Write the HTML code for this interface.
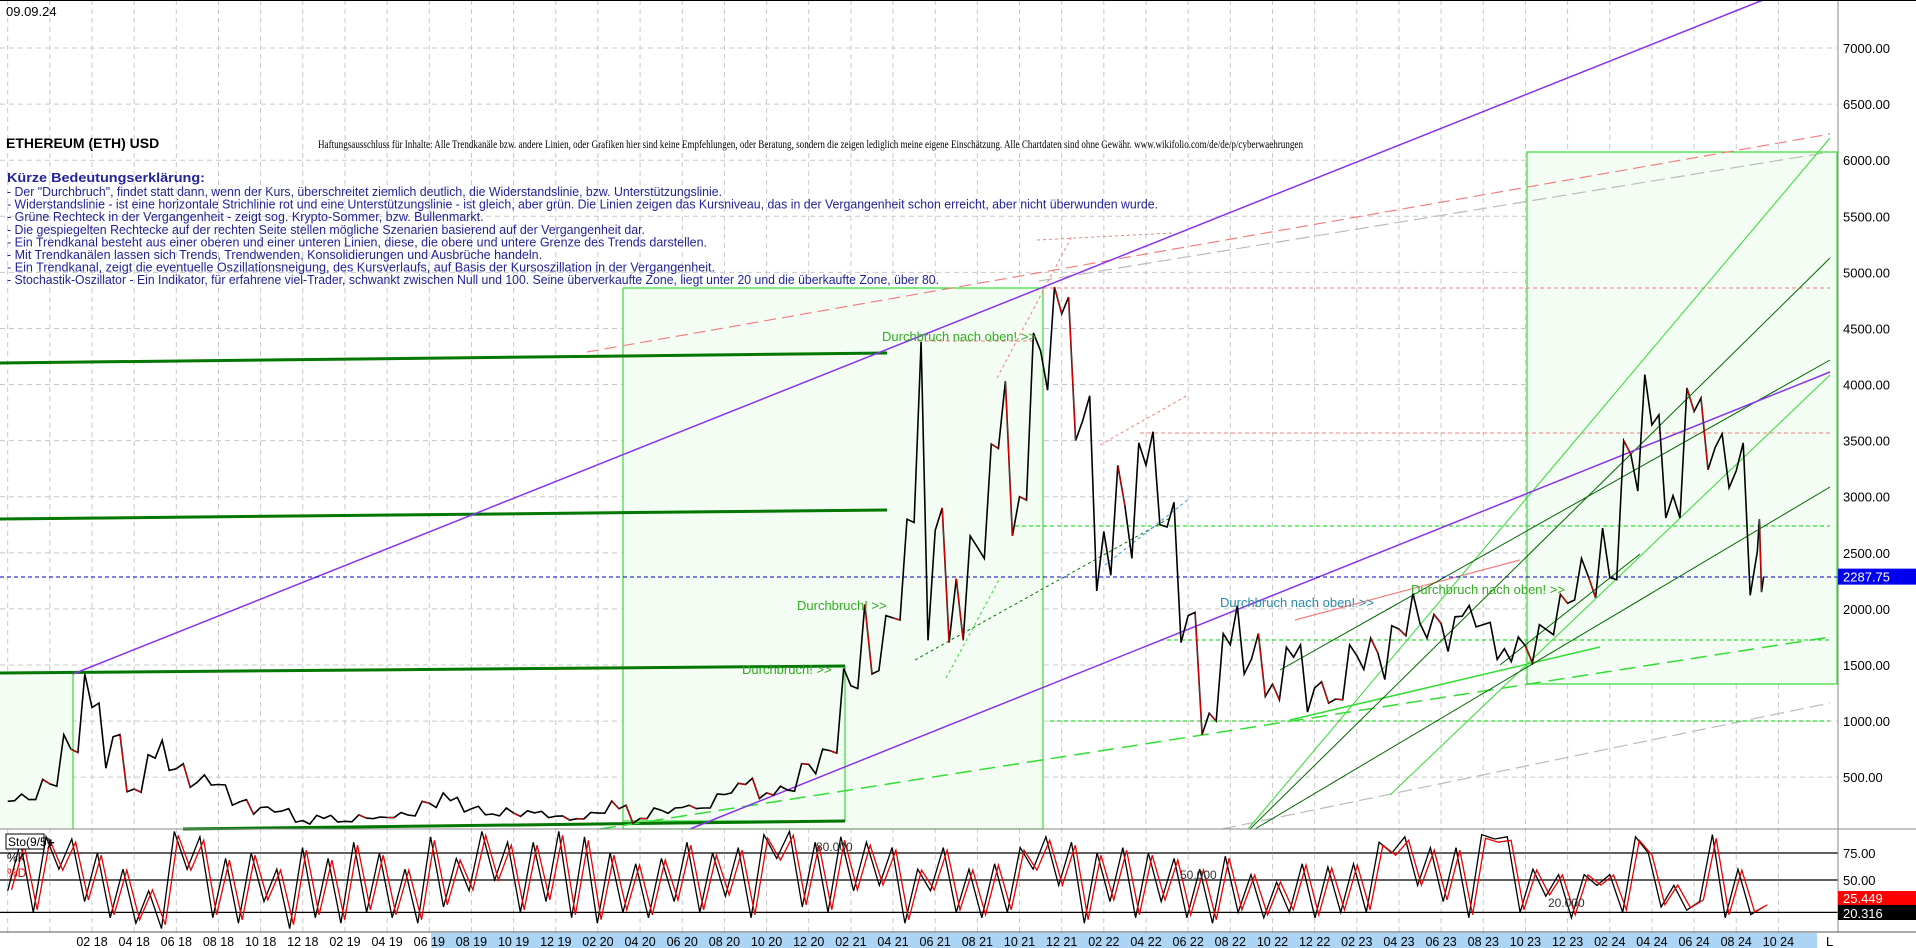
<!DOCTYPE html>
<html><head><meta charset="utf-8"><title>ETH USD</title>
<style>
html,body{margin:0;padding:0;background:#fff;}
svg{display:block;font-family:"Liberation Sans",sans-serif;}
</style></head>
<body>
<svg id="chart" width="1916" height="948" viewBox="0 0 1916 948" xmlns="http://www.w3.org/2000/svg">
<rect x="0" y="0" width="1916" height="948" fill="#fff"/>
<g id="grid"></g>
<g id="shapes">
  <rect x="0" y="674" width="73" height="155" fill="#f4fdf4" stroke="none"/>
  <line x1="73" y1="674" x2="73" y2="829" stroke="#33dd33" stroke-width="1.2"/>
  <rect x="623" y="288" width="420" height="541" fill="#f4fdf4" stroke="#33dd33" stroke-width="1.2"/>
  <line x1="845" y1="666" x2="845" y2="821" stroke="#33dd33" stroke-width="1.2"/>
  <line x1="623" y1="821" x2="845" y2="821" stroke="#33dd33" stroke-width="1.2"/>
  <rect x="1527" y="152" width="310" height="532" fill="#f4fdf4" stroke="#33dd33" stroke-width="1.2"/>
</g>
<g id="lines">
  <line x1="0" y1="363" x2="887" y2="353" stroke="#007700" stroke-width="3"/>
  <line x1="0" y1="519" x2="887" y2="510" stroke="#007700" stroke-width="3"/>
  <line x1="0" y1="673" x2="845" y2="666" stroke="#007700" stroke-width="3"/>
  <line x1="183" y1="829" x2="845" y2="821" stroke="#007700" stroke-width="3"/>
  <line x1="1039" y1="281" x2="1830" y2="152" stroke="#bbb" stroke-width="1.2" stroke-dasharray="14 6"/>
  <line x1="1222" y1="829" x2="1830" y2="703" stroke="#bbb" stroke-width="1.2" stroke-dasharray="14 6"/>
  <line x1="587" y1="352" x2="1830" y2="134" stroke="#f08080" stroke-width="1.2" stroke-dasharray="12 6"/>
  <line x1="1043" y1="288" x2="1830" y2="288" stroke="#f08080" stroke-width="1" stroke-dasharray="4 3"/>
  <line x1="1140" y1="433" x2="1830" y2="433" stroke="#f08080" stroke-width="1" stroke-dasharray="4 3"/>
  <line x1="918" y1="341" x2="1035" y2="341" stroke="#f08080" stroke-width="1" stroke-dasharray="4 3"/>
  <line x1="1037" y1="240" x2="1172" y2="233" stroke="#f08080" stroke-width="1" stroke-dasharray="3 3"/>
  <line x1="997" y1="378" x2="1072" y2="236" stroke="#f08080" stroke-width="1" stroke-dasharray="3 3"/>
  <line x1="1100" y1="445" x2="1188" y2="395" stroke="#f08080" stroke-width="1" stroke-dasharray="3 3"/>
  <line x1="1295" y1="620" x2="1520" y2="560" stroke="#f08080" stroke-width="1.2"/>
  <line x1="1050" y1="721" x2="1830" y2="721" stroke="#33dd33" stroke-width="1.2" stroke-dasharray="4 3"/>
  <line x1="1015" y1="526" x2="1830" y2="526" stroke="#33dd33" stroke-width="1.2" stroke-dasharray="4 3"/>
  <line x1="1160" y1="640" x2="1830" y2="640" stroke="#33dd33" stroke-width="1.2" stroke-dasharray="4 3"/>
  <line x1="946" y1="678" x2="1000" y2="578" stroke="#33dd33" stroke-width="1" stroke-dasharray="3 3"/>
  <line x1="915" y1="660" x2="1170" y2="518" stroke="#007700" stroke-width="1" stroke-dasharray="3 3"/>
  <line x1="1105" y1="565" x2="1190" y2="498" stroke="#3399ee" stroke-width="1" stroke-dasharray="3 3"/>
  <line x1="600" y1="829" x2="1830" y2="637" stroke="#33dd33" stroke-width="1.5" stroke-dasharray="16 8"/>
  <line x1="1290" y1="720" x2="1600" y2="647" stroke="#33dd33" stroke-width="1.5"/>
  <line x1="1248" y1="829" x2="1830" y2="138" stroke="#33dd33" stroke-width="1"/>
  <line x1="1390" y1="795" x2="1830" y2="375" stroke="#33dd33" stroke-width="1"/>
  <line x1="1250" y1="829" x2="1830" y2="258" stroke="#006600" stroke-width="1"/>
  <line x1="1255" y1="829" x2="1830" y2="487" stroke="#006600" stroke-width="1"/>
  <line x1="1500" y1="665" x2="1640" y2="554" stroke="#006600" stroke-width="1"/>
  <line x1="1280" y1="670" x2="1830" y2="360" stroke="#006600" stroke-width="1"/>
  <line x1="73" y1="674" x2="1763" y2="0" stroke="#8833ee" stroke-width="1.5"/>
  <line x1="690" y1="829" x2="1830" y2="372" stroke="#8833ee" stroke-width="1.5"/>
  <line x1="0" y1="577" x2="1838" y2="577" stroke="#0000cc" stroke-width="1" stroke-dasharray="4 3"/>
</g>
<g id="price"></g>
<g id="stoch"></g>
<g id="texts">
  <text x="6" y="16" font-size="13" fill="#000">09.09.24</text>
  <text x="6" y="148" font-size="14" font-weight="bold" fill="#000">ETHEREUM (ETH) USD</text>
  <text x="318" y="148" font-size="11.5" fill="#000" font-family="Liberation Serif, serif" textLength="985" lengthAdjust="spacingAndGlyphs">Haftungsausschluss für Inhalte: Alle Trendkanäle bzw. andere Linien, oder Grafiken hier sind keine Empfehlungen, oder Beratung, sondern die zeigen lediglich meine eigene Einschätzung. Alle Chartdaten sind ohne Gewähr.  www.wikifolio.com/de/de/p/cyberwaehrungen</text>
  <g fill="#22229a" font-size="12.5">
    <text x="7" y="182" font-weight="bold" textLength="198" lengthAdjust="spacingAndGlyphs">Kürze Bedeutungserklärung:</text>
    <text x="7" y="196" textLength="715" lengthAdjust="spacingAndGlyphs"> - Der "Durchbruch", findet statt dann, wenn der Kurs, überschreitet ziemlich deutlich, die Widerstandslinie, bzw. Unterstützungslinie.</text>
    <text x="7" y="208.5" textLength="1151" lengthAdjust="spacingAndGlyphs"> - Widerstandslinie - ist eine horizontale Strichlinie rot und eine Unterstützungslinie - ist gleich, aber grün. Die Linien zeigen das Kursniveau, das in der Vergangenheit schon erreicht, aber nicht überwunden wurde.</text>
    <text x="7" y="221"> - Grüne Rechteck in der Vergangenheit - zeigt sog. Krypto-Sommer, bzw. Bullenmarkt.</text>
    <text x="7" y="234" textLength="638" lengthAdjust="spacingAndGlyphs"> - Die gespiegelten Rechtecke auf der rechten Seite stellen mögliche Szenarien basierend auf der Vergangenheit dar.</text>
    <text x="7" y="246.5" textLength="700" lengthAdjust="spacingAndGlyphs"> - Ein Trendkanal besteht aus einer oberen und einer unteren Linien, diese, die obere und untere Grenze des Trends darstellen.</text>
    <text x="7" y="259"> - Mit Trendkanälen lassen sich Trends, Trendwenden, Konsolidierungen und Ausbrüche handeln.</text>
    <text x="7" y="271.5" textLength="708" lengthAdjust="spacingAndGlyphs"> - Ein Trendkanal, zeigt die eventuelle Oszillationsneigung, des Kursverlaufs, auf Basis der Kursoszillation in der Vergangenheit.</text>
    <text x="7" y="284" textLength="932" lengthAdjust="spacingAndGlyphs"> - Stochastik-Oszillator - Ein Indikator, für erfahrene viel-Trader, schwankt zwischen Null und 100. Seine überverkaufte Zone, liegt unter 20 und die überkaufte Zone, über 80.</text>
  </g>
  <g font-size="13" fill="#33aa22">
    <text x="882" y="341">Durchbruch nach oben! &gt;&gt;</text>
    <text x="797" y="610">Durchbruch! &gt;&gt;</text>
    <text x="742" y="674">Durchbruch! &gt;&gt;</text>
    <text x="1220" y="607" fill="#2a8aaa">Durchbruch nach oben! &gt;&gt;</text>
    <text x="1411" y="594">Durchbruch nach oben! &gt;&gt;</text>
  </g>
</g>
<g id="axes"></g>
</svg>
<script>
// ---- data ----
var months = ["10 17","11 17","12 17","01 18","02 18","03 18","04 18","05 18","06 18","07 18","08 18","09 18","10 18","11 18","12 18","01 19","02 19","03 19","04 19","05 19","06 19","07 19","08 19","09 19","10 19","11 19","12 19","01 20","02 20","03 20","04 20","05 20","06 20","07 20","08 20","09 20","10 20","11 20","12 20","01 21","02 21","03 21","04 21","05 21","06 21","07 21","08 21","09 21","10 21","11 21","12 21","01 22","02 22","03 22","04 22","05 22","06 22","07 22","08 22","09 22","10 22","11 22","12 22","01 23","02 23","03 23","04 23","05 23","06 23","07 23","08 23","09 23","10 23","11 23","12 23","01 24","02 24","03 24","04 24","05 24","06 24","07 24","08 24","09 24"];
var highs = [350,480,880,1420,1160,880,700,830,620,520,430,300,235,220,160,160,165,145,185,285,360,320,240,225,200,195,155,185,288,250,225,225,250,350,445,490,420,620,750,1470,2040,1940,2800,4380,2900,2650,3470,4030,4460,4870,4780,3900,3280,3480,3580,2950,1970,1780,2030,1780,1660,1680,1350,1680,1740,1850,2140,1950,1930,2030,1880,1750,1860,2130,2450,2720,3500,4090,3730,3970,3880,3560,3480,2800];
var lows = [290,300,420,720,580,370,365,560,410,430,250,170,190,100,82,100,102,130,140,155,230,190,165,155,150,140,117,127,180,90,130,178,220,225,360,310,340,375,530,715,1290,1450,1900,1720,1700,1720,2450,2650,2970,3950,3500,2160,2300,2450,2750,1700,880,1000,1420,1220,1190,1080,1160,1190,1460,1370,1760,1740,1620,1840,1550,1530,1520,1770,2080,2100,2260,3050,2810,2810,3240,3080,2120,2150];
var closes = [300,440,750,1120,860,395,670,575,455,435,280,230,198,113,133,107,136,141,162,268,290,218,172,180,182,152,130,180,218,133,206,230,225,345,435,360,385,615,737,1315,1420,1920,2770,2700,2270,2550,3430,3000,4300,4630,3680,2690,2920,3280,2730,1940,1070,1680,1550,1330,1570,1295,1196,1585,1605,1820,1870,1870,1935,1860,1645,1670,1815,2050,2280,2280,3380,3640,3010,3760,3440,3230,2510,2288];
var lastPrice = 2287.75;
var priceTicks = [500,1000,1500,2000,2500,3000,3500,4000,4500,5000,5500,6000,6500,7000];
var stochK = [40,85,20,90,60,88,30,75,15,60,10,40,5,95,60,90,15,70,10,75,30,60,5,80,15,70,10,85,20,75,15,60,10,90,25,70,40,95,50,85,20,85,30,95,15,90,10,75,20,65,15,70,30,85,20,75,35,80,15,92,70,95,25,85,20,90,40,85,45,80,10,60,40,80,20,60,15,65,20,80,60,90,45,85,10,75,30,80,15,75,30,70,15,60,10,72,20,55,15,48,20,65,15,62,20,65,20,85,75,90,45,80,30,80,15,92,88,90,20,60,35,55,15,55,45,55,20,90,75,25,45,22,30,92,15,60,18,25];
var stochLevels = [75,50,20];
var stochK_last = 20.316, stochD_last = 25.449;

// ---- scales ----
var NS = "http://www.w3.org/2000/svg";
function X(t){ return 92 + (t-1)*21.08; }
function Y(p){ return 665 - (p-1500)*0.11218; }
function SY(s){ return 880 - (s-50)*1.08; }
function mk(tag, attrs, parent){ var e=document.createElementNS(NS,tag); for(var k in attrs) e.setAttribute(k, attrs[k]); parent.appendChild(e); return e; }

var grid = document.getElementById('grid');
var axes = document.getElementById('axes');
var price = document.getElementById('price');
var stoch = document.getElementById('stoch');

for (var t=-3; t<=82; t++){
  var mo = ((t%12)+12)%12 + 1;
  if (mo%2===0){
    var gl = mk('line',{x1:X(t),x2:X(t),y1:0,y2:932,stroke:'#c8c8c8','stroke-dasharray':'5 4','stroke-width':1},grid);
    
    
  }
}
for (var i=0;i<priceTicks.length;i++){
  var hl = mk('line',{x1:0,x2:1838,y1:Y(priceTicks[i]),y2:Y(priceTicks[i]),stroke:'#c8c8c8','stroke-dasharray':'5 4'},grid);
  
  
}

// ---- price path ----
var pts = [];
var prevC = closes[0]*0.95;
for (var i=0;i<months.length;i++){
  var t0 = i-3, span = (i===months.length-1)?0.3:1;
  var o = prevC, c = closes[i];
  var first = c>=o ? lows[i] : highs[i], second = c>=o ? highs[i] : lows[i];
  pts.push([X(t0),Y(o)],[X(t0+span*0.33),Y(first)],[X(t0+span*0.66),Y(second)],[X(t0+span),Y(c)]);
  prevC = c;
}
var d = 'M'+pts.map(function(p){return p[0].toFixed(1)+' '+p[1].toFixed(1);}).join(' L');
var pp = mk('path',{d:d,fill:'none',stroke:'#000','stroke-width':1.6},price);


for (var j=1;j<pts.length;j++){
  if (pts[j][1] > pts[j-1][1] && j%3===1){
    var rs = mk('line',{x1:pts[j-1][0],y1:pts[j-1][1],x2:pts[j][0],y2:pts[j][1],stroke:'#e00','stroke-width':1},price);
    
    
  }
}

// ---- stochastic ----
var sp = mk('line',{x1:0,x2:1916,y1:829,y2:829,stroke:'#888','stroke-width':1},stoch);


for (var i=0;i<stochLevels.length;i++){
  var ll = mk('line',{x1:0,x2:1838,y1:SY(stochLevels[i]),y2:SY(stochLevels[i]),stroke:'#000','stroke-width':1.2},stoch);
  
  
}
var tStart=-3, tEnd=80.3, step=(tEnd-tStart)/(stochK.length-1);
var kd='', dd='';
for (var i=0;i<stochK.length;i++){
  kd += (i?' L':'M') + X(tStart+i*step).toFixed(1)+' '+SY(stochK[i]).toFixed(1);
  dd += (i?' L':'M') + X(tStart+i*step+0.18).toFixed(1)+' '+SY(stochK[i]*0.92+4).toFixed(1);
}
var kp = mk('path',{d:kd,fill:'none',stroke:'#000','stroke-width':1.3},stoch);


var dp = mk('path',{d:dd,fill:'none',stroke:'#e00','stroke-width':1.3},stoch);



// ---- axes ----
var ax = mk('line',{x1:1838,x2:1838,y1:0,y2:932,stroke:'#888','stroke-width':1},axes);


var tb = mk('line',{x1:0,x2:1916,y1:0.5,y2:0.5,stroke:'#000','stroke-width':1},axes);


for (var i=0;i<priceTicks.length;i++){
  var tx = mk('text',{x:1843,y:Y(priceTicks[i])+5,'font-size':13,fill:'#000'},axes);
  tx.textContent = priceTicks[i].toFixed(2);
  
  
}
var pb = mk('rect',{x:1838,y:Y(lastPrice)-8,width:78,height:16,fill:'#0000ee'},axes);


var pt = mk('text',{x:1843,y:Y(lastPrice)+5,'font-size':13,fill:'#fff'},axes);
pt.textContent = lastPrice.toFixed(2);


var sl = [75,50];
for (var i=0;i<sl.length;i++){
  var st = mk('text',{x:1843,y:SY(sl[i])+5,'font-size':13,fill:'#000'},axes);
  st.textContent = sl[i].toFixed(2);
  
  
}
var rb = mk('rect',{x:1838,y:891,width:78,height:14,fill:'#ff0000'},axes);


var rt = mk('text',{x:1843,y:903,'font-size':13,fill:'#fff'},axes);
rt.textContent = stochD_last.toFixed(3);


var bb = mk('rect',{x:1838,y:905,width:78,height:15,fill:'#000'},axes);


var bt = mk('text',{x:1843,y:918,'font-size':13,fill:'#fff'},axes);
bt.textContent = stochK_last.toFixed(3);


var lb = mk('rect',{x:6,y:834,width:38,height:15,fill:'#fff',stroke:'#000'},axes);


var lt = mk('text',{x:8,y:846,'font-size':12,fill:'#000'},axes);
lt.textContent='Sto(9/5)';


var plus = mk('text',{x:47,y:847,'font-size':13,'font-weight':'bold',fill:'#000'},axes);
plus.textContent='+';


var kl = mk('text',{x:7,y:862,'font-size':12,fill:'#000'},axes); kl.textContent='%K';


var dl = mk('text',{x:7,y:877,'font-size':12,fill:'#e00'},axes); dl.textContent='%D';


var lvls=[['80.000',816,851],['50.000',1180,879],['20.000',1548,907]];
for (var i=0;i<lvls.length;i++){
  var lv = mk('text',{x:lvls[i][1],y:lvls[i][2],'font-size':12,fill:'#333'},axes);
  lv.textContent=lvls[i][0];
  
  
}
var da = mk('line',{x1:0,x2:1916,y1:932,y2:932,stroke:'#555'},axes);


var band = mk('rect',{x:431,y:933,width:1386,height:15,fill:'#acd4f4'},axes);


for (var t=1; t<=81; t++){
  var mo = ((t%12)+12)%12 + 1;
  if (mo%2===0){
    var yr = 18 + Math.floor(t/12);
    var lbl = (mo<10?'0':'')+mo+' '+yr;
    var dtx = mk('text',{x:X(t),y:946,'font-size':12.5,fill:'#000','text-anchor':'middle'},axes);
    dtx.textContent = lbl;
    
    
  }
}
var Lt = mk('text',{x:1826,y:946,'font-size':13,fill:'#000'},axes); Lt.textContent='L';


</script>
</body></html>
